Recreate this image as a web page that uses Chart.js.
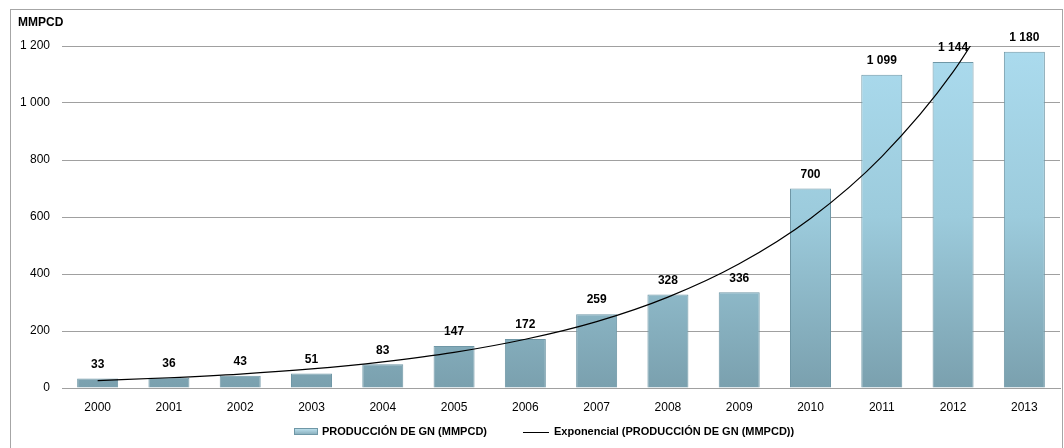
<!DOCTYPE html>
<html>
<head>
<meta charset="utf-8">
<script src="https://cdn.jsdelivr.net/npm/chart.js"></script>
<style>
  html, body { margin: 0; padding: 0; background: #fff; }
  #wrap { width: 1064px; height: 448px; position: relative; }
</style>
</head>
<body>
<div id="wrap"><canvas id="grafica" width="1064" height="448"></canvas></div>
<script>
// datos
const anios = ["2000","2001","2002","2003","2004","2005","2006","2007","2008","2009","2010","2011","2012","2013"];
const produccion = [33, 36, 43, 51, 83, 147, 172, 259, 328, 336, 700, 1099, 1144, 1180];
// tendencia exponencial (se corta en 1 200)
const tendencia = [26, 36, 49, 67, 92, 125, 171, 233, 319, 436, 595, 812, 1109, 1514];
const ticksY = [0, 200, 400, 600, 800, 1000, 1200];

const serieBarras = "PRODUCCIÓN DE GN (MMPCD)";
const serieTendencia = "Exponencial (PRODUCCIÓN DE GN (MMPCD))";

const fuente = "'Liberation Sans', Arial, sans-serif";

function fmt(n) {
  return String(n).replace(/\B(?=(\d{3})+(?!\d))/g, " ");
}

function degradado(context) {
  const chart = context.chart;
  const area = chart.chartArea;
  if (!area) return "#9cc8d8";
  const g = chart.ctx.createLinearGradient(0, area.top, 0, area.bottom);
  g.addColorStop(0, "#abdbee");
  g.addColorStop(0.5, "#9ccbdc");
  g.addColorStop(1, "#7aa0ae");
  return g;
}

// marco, titulo del eje, etiquetas de los datos y leyenda
const extras = {
  id: "extras",
  beforeDraw(chart) {
    const ctx = chart.ctx;
    ctx.save();
    ctx.strokeStyle = "#a6a6a6";
    ctx.lineWidth = 1;
    ctx.strokeRect(10.5, 9.5, 1052, 460);
    ctx.restore();
  },
  afterDraw(chart) {
    const ctx = chart.ctx;
    ctx.save();
    ctx.fillStyle = "#000";
    ctx.font = "bold 12px " + fuente;
    ctx.textAlign = "left";
    ctx.textBaseline = "middle";
    ctx.fillText("MMPCD", 18, 23);

    ctx.textAlign = "center";
    const meta = chart.getDatasetMeta(1);
    meta.data.forEach((bar, i) => {
      ctx.fillText(fmt(produccion[i]), bar.x, bar.y - 14);
    });

    // leyenda
    const y = 432;
    ctx.font = "bold 11px " + fuente;
    ctx.textAlign = "left";
    let x = 294;
    const g = ctx.createLinearGradient(0, y - 4, 0, y + 4);
    g.addColorStop(0, "#c2e6f3");
    g.addColorStop(1, "#7aa0ae");
    ctx.fillStyle = g;
    ctx.fillRect(x, y - 4, 24, 7);
    ctx.strokeStyle = "#6f97a6";
    ctx.lineWidth = 1;
    ctx.strokeRect(x + 0.5, y - 3.5, 23, 6);
    ctx.fillStyle = "#000";
    x += 28;
    ctx.fillText(serieBarras, x, y);
    x += ctx.measureText(serieBarras).width + 36;
    ctx.strokeStyle = "#000";
    ctx.beginPath();
    ctx.moveTo(x, y + 0.5);
    ctx.lineTo(x + 26, y + 0.5);
    ctx.stroke();
    x += 31;
    ctx.fillText(serieTendencia, x, y);
    ctx.restore();
  }
};

new Chart(document.getElementById("grafica"), {
  data: {
    labels: anios,
    datasets: [
      {
        type: "line",
        label: serieTendencia,
        data: tendencia,
        borderColor: "#000",
        borderWidth: 1.2,
        pointRadius: 0,
        cubicInterpolationMode: "monotone",
        fill: false,
        order: 0
      },
      {
        type: "bar",
        label: serieBarras,
        data: produccion,
        backgroundColor: degradado,
        borderColor: "#6f97a6",
        borderWidth: 1,
        barPercentage: 0.575,
        categoryPercentage: 1,
        order: 1
      }
    ]
  },
  options: {
    responsive: false,
    animation: false,
    devicePixelRatio: 1,
    layout: { padding: { left: 10, right: 4, top: 46, bottom: 0 } },
    plugins: {
      tooltip: { enabled: false },
      title: { display: false },
      legend: { display: false }
    },
    scales: {
      x: {
        afterFit(s) { s.height = 60; },
        grid: { display: false },
        border: { color: "#a0a0a0" },
        ticks: { color: "#000", font: { family: fuente, size: 12 }, padding: 4, maxRotation: 0 }
      },
      y: {
        min: 0,
        max: 1200,
        afterFit(s) { s.width = 52; },
        afterBuildTicks(s) { s.ticks = ticksY.map(v => ({ value: v })); },
        grid: { color: "#a0a0a0", drawTicks: false },
        border: { display: false },
        ticks: {
          color: "#000",
          font: { family: fuente, size: 12 },
          padding: 12,
          callback: v => fmt(v)
        }
      }
    }
  },
  plugins: [extras]
});
</script>
</body>
</html>
